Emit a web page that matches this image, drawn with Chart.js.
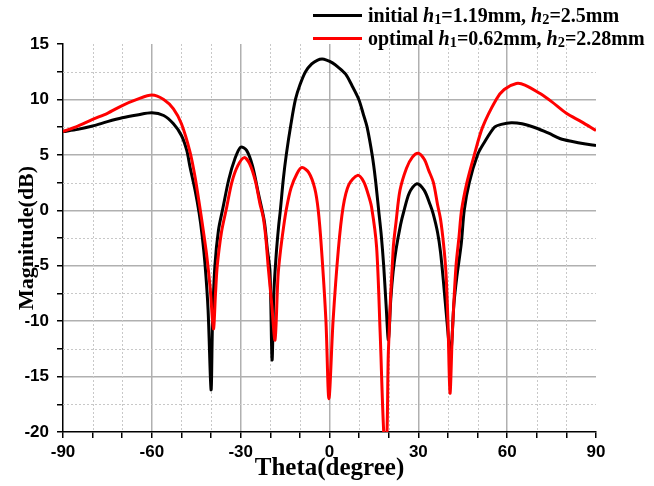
<!DOCTYPE html>
<html>
<head>
<meta charset="utf-8">
<script src="https://cdn.jsdelivr.net/npm/chart.js@4.4.0/dist/chart.umd.min.js"></script>
<style>
  body { margin: 0; background: #fff; }
  #wrap { position: relative; width: 654px; height: 486px; }
  #legend { position: absolute; left: 313px; top: 4px; font-family: "Liberation Serif", "Times New Roman", serif; font-weight: bold; font-size: 20px; }
  .row { display: flex; align-items: center; height: 23px; white-space: nowrap; }
  .swatch { width: 49px; height: 3px; margin-right: 6px; }
  .row sub { font-size: 0.72em; vertical-align: -0.15em; line-height: 0; }
</style>
</head>
<body>
<div id="wrap">
  <canvas id="chart" width="654" height="486"></canvas>
  <div id="legend"></div>
</div>
<script>
// series names (h1 / h2 written with italic + subscript in the legend)
var names = ['initial <i>h</i><sub>1</sub>=1.19mm, <i>h</i><sub>2</sub>=2.5mm',
             'optimal <i>h</i><sub>1</sub>=0.62mm, <i>h</i><sub>2</sub>=2.28mm'];

// initial design (black)
var thetaInit = [-90, -85, -80, -75, -70, -65, -60, -56, -52.7, -50, -48.2, -47.1, -45.4, -44, -43, -42, -41, -40, -39.5, -38.7,
  -37.5, -36, -34, -32, -30, -28, -26, -24, -22, -21, -20.1, -19.4, -18.8, -18, -17.2, -16.6, -15.6, -14.6, -13, -11.5,
  -10, -8.1, -6, -4, -2.5, -1, 1, 3, 5.4, 7.5, 9.9, 11.5, 12.7, 14.4, 15.5, 16.6, 17.5, 18.3, 19.1, 19.9,
  20.7, 21.5, 22.5, 24, 25, 27, 29.5, 32, 34, 35, 36.5, 37.5, 38.5, 39.5, 40.9, 42, 43, 44.5, 45.5, 47.2,
  50, 52, 55.7, 58, 61.4, 65, 70, 74, 78, 82, 86, 90];
var magInit = [7.1, 7.3, 7.6, 8.0, 8.35, 8.6, 8.8, 8.55, 7.8, 6.75, 5.4, 3.9, 1.8, -0.3, -2.3, -5.0, -9.0, -16.2, -10, -5.0,
  -1.8, 0.2, 2.8, 4.6, 5.7, 5.4, 4.0, 1.5, -1.0, -3.5, -5.5, -13.5, -7.5, -4.0, -1.5, 0.0, 2.8, 5.0, 7.8, 10.0,
  11.3, 12.5, 13.2, 13.55, 13.64, 13.55, 13.3, 12.9, 12.3, 11.3, 10.0, 8.6, 7.5, 5.0, 2.8, 0.0, -2.3, -5.0, -8.5, -11.7,
  -8.0, -5.5, -3.5, -1.3, -0.2, 1.6, 2.4, 1.8, 0.5, -0.3, -2.0, -3.8, -6.5, -9.5, -13.0, -8.5, -6.0, -3.0, 0.0, 2.5,
  5.0, 6.0, 7.5, 7.75, 7.9, 7.8, 7.4, 6.95, 6.45, 6.2, 6.0, 5.85];

// optimal design (red)
var thetaOpt = [-90, -85, -80, -75, -70, -65, -60, -56, -52.7, -50, -47.1, -45.4, -43.8, -42.8, -41.5, -40.3, -39.2, -38.5, -37.9, -36.5,
  -34.7, -33, -31, -28.8, -27, -25, -23.5, -22.4, -21.5, -20.7, -19.5, -18.4, -17.4, -16.7, -15.5, -14.5, -13, -11, -9.3, -7,
  -5, -3.8, -2.7, -1.2, -0.2, 1.2, 3, 4.6, 6.5, 9.5, 11.5, 13, 14.2, 15.9, 17.1, 18.5, 19.3, 19.9, 21.5, 22.5,
  23.8, 26, 28, 30, 32, 33.5, 35.1, 36.5, 37.5, 38.5, 39.3, 40, 40.7, 41.5, 42.7, 43.7, 44.6, 46.4, 48.9, 51.7,
  56.3, 59, 63.1, 66, 71, 75, 80, 85, 90];
var magOpt = [7.1, 7.6, 8.2, 8.75, 9.45, 10.0, 10.4, 10.0, 9.15, 7.8, 5.25, 3.0, 0.3, -1.5, -4.0, -7.0, -10.7, -7.5, -5.0, -2.0,
  0.3, 2.5, 4.0, 4.75, 4.2, 2.6, 0.6, -0.6, -2.5, -5.1, -8.5, -11.7, -6.0, -4.0, -1.5, 0.2, 2.0, 3.3, 3.85, 3.4,
  2.0, 0.0, -3.5, -10, -17, -10, -3.5, 0.3, 2.3, 3.15, 2.6, 1.5, 0.3, -3.3, -11, -21, -21, -12.6, -3.5, -1.0,
  1.8, 3.8, 4.8, 5.15, 4.6, 3.6, 2.5, 0.5, -0.8, -3.0, -5.5, -10, -16.5, -11, -5.1, -2.5, 0.0, 2.5, 5.0, 7.5,
  10.0, 10.9, 11.44, 11.3, 10.55, 9.8, 8.75, 8.0, 7.2];

var xTicks = [-90, -60, -30, 0, 30, 60, 90];
var yTicks = [-20, -15, -10, -5, 0, 5, 10, 15];

function pts(xs, ys) {
    return xs.map(function (x, i) { return {x: x, y: ys[i]}; });
}
function isMajor(v, list) { return list.indexOf(v) >= 0; }

// dotted minor grid lines between the major ones
var minorGrid = {
    id: 'minorGrid',
    beforeDatasetsDraw: function (chart) {
        var ctx = chart.ctx, a = chart.chartArea;
        var xs = chart.scales.x, ys = chart.scales.y;
        ctx.save();
        ctx.strokeStyle = '#c8c8c8';
        ctx.lineWidth = 1;
        ctx.setLineDash([2, 2]);
        xs.ticks.forEach(function (t) {
            if (isMajor(t.value, xTicks)) return;
            var px = Math.round(xs.getPixelForValue(t.value)) + 0.5;
            ctx.beginPath(); ctx.moveTo(px, a.top); ctx.lineTo(px, a.bottom); ctx.stroke();
        });
        ys.ticks.forEach(function (t) {
            if (isMajor(t.value, yTicks)) return;
            var py = Math.round(ys.getPixelForValue(t.value)) + 0.5;
            ctx.beginPath(); ctx.moveTo(a.left, py); ctx.lineTo(a.right, py); ctx.stroke();
        });
        ctx.restore();
    }
};

var tickFont = {family: '"Liberation Sans", Arial, sans-serif', weight: 'bold', size: 17};

var config = {
    type: 'line',
    data: {
        datasets: [{
            label: 'initial',
            data: pts(thetaInit, magInit),
            borderColor: '#000000',
            borderWidth: 3,
            pointRadius: 0,
            tension: 0.3,
            order: 1
        }, {
            label: 'optimal',
            data: pts(thetaOpt, magOpt),
            borderColor: '#ff0000',
            borderWidth: 3,
            pointRadius: 0,
            tension: 0.3,
            order: 0
        }]
    },
    options: {
        responsive: false,
        animation: false,
        devicePixelRatio: 1,
        layout: {padding: {top: 44, right: 58, left: 0, bottom: 0}},
        plugins: {legend: {display: false}, tooltip: {enabled: false}},
        scales: {
            x: {
                type: 'linear',
                min: -90, max: 90,
                afterFit: function (s) { s.height = 54; },
                ticks: {
                    stepSize: 10, autoSkip: false, maxRotation: 0, padding: 4,
                    color: '#000', font: tickFont,
                    callback: function (v) { return isMajor(v, xTicks) ? v : ''; }
                },
                grid: {
                    color: function (c) {
                        var v = c.tick ? c.tick.value : null;
                        return (isMajor(v, xTicks) && v !== -90 && v !== 90) ? '#b0b0b0' : 'rgba(0,0,0,0)';
                    },
                    lineWidth: 1.5,
                    tickColor: '#000', tickLength: 6, tickWidth: 1.5
                },
                border: {color: '#000', width: 1.5},
                title: {display: true, text: 'Theta(degree)', color: '#000',
                        font: {family: '"Liberation Serif", "Times New Roman", serif', weight: 'bold', size: 25},
                        padding: {top: 0, bottom: 2}}
            },
            y: {
                min: -20, max: 15,
                afterFit: function (s) { s.width = 63; },
                ticks: {
                    stepSize: 2.5, autoSkip: false, padding: 8,
                    color: '#000', font: tickFont,
                    callback: function (v) { return isMajor(v, yTicks) ? v : ''; }
                },
                grid: {
                    color: function (c) {
                        var v = c.tick ? c.tick.value : null;
                        return (isMajor(v, yTicks) && v !== -20 && v !== 15) ? '#b0b0b0' : 'rgba(0,0,0,0)';
                    },
                    lineWidth: 1.5,
                    tickColor: '#000', tickLength: 6, tickWidth: 1.5
                },
                border: {color: '#000', width: 1.5},
                title: {display: true, text: 'Magnitude(dB)', color: '#000',
                        font: {family: '"Liberation Serif", "Times New Roman", serif', weight: 'bold', size: 22},
                        padding: {top: 14, bottom: 0}}
            }
        }
    },
    plugins: [minorGrid]
};

var chart = new Chart(document.getElementById('chart'), config);

// legend as real text, built from the dataset colours
var colors = config.data.datasets.map(function (d) { return d.borderColor; });
document.getElementById('legend').innerHTML = names.map(function (n, i) {
    return '<div class="row"><span class="swatch" style="background:' + colors[i] + '"></span><span>' + n + '</span></div>';
}).join('');
</script>
</body>
</html>
